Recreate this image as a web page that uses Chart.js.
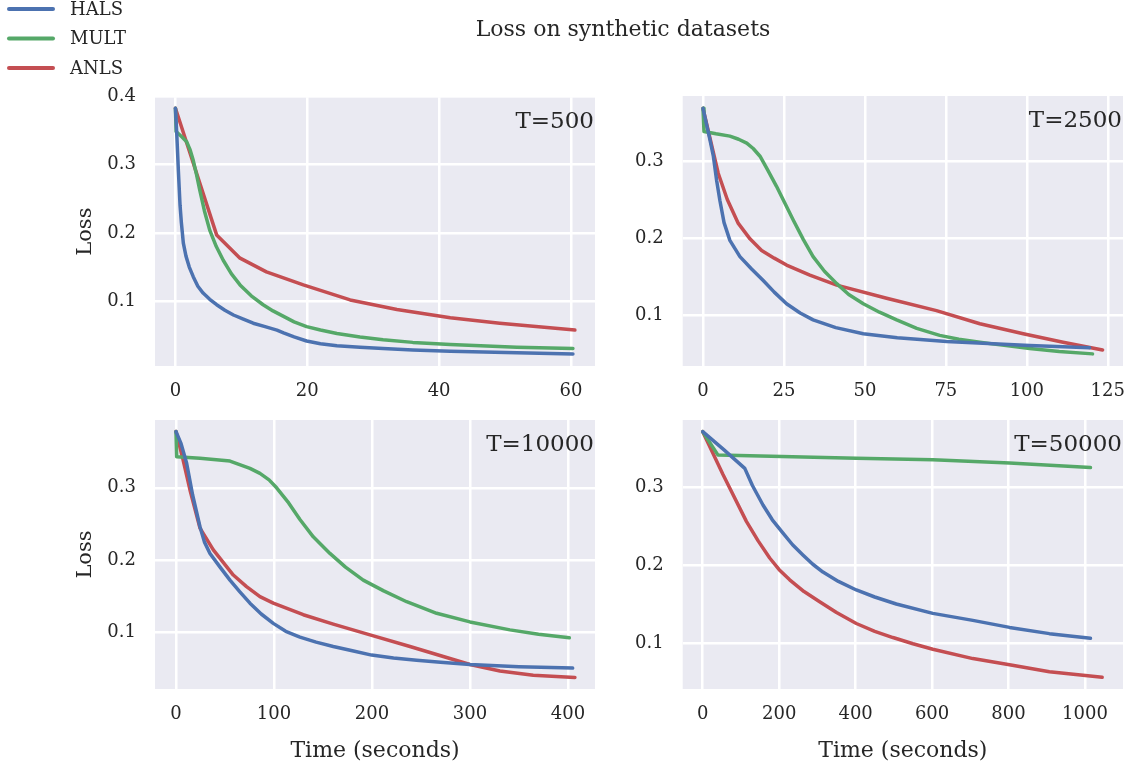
<!DOCTYPE html>
<html>
<head>
<meta charset="utf-8">
<script src="https://cdn.jsdelivr.net/npm/chart.js@4.4.1/dist/chart.umd.min.js"></script>
<style>
  body { margin: 0; background: #fff; }
  #wrap { position: relative; width: 1130px; height: 768px; }
  #wrap canvas { position: absolute; left: 0; top: 0; }
</style>
</head>
<body>
<div id="wrap">
  <canvas id="c500" width="1130" height="768"></canvas>
  <canvas id="c2500" width="1130" height="768"></canvas>
  <canvas id="c10000" width="1130" height="768"></canvas>
  <canvas id="c50000" width="1130" height="768"></canvas>
</div>
<script>
// series names + colours (seaborn "deep")
const seriesNames = ['HALS', 'MULT', 'ANLS'];
const seriesColors = ['#4C72B0', '#55A868', '#C44E52'];

// T=500  -> [time, loss]
const hals500 = [[0,0.382],[0.2,0.345],[0.45,0.29],[0.7,0.24],[0.9,0.215],[1.2,0.185],[1.6,0.166],[2.1,0.15],[2.7,0.136],[3.4,0.122],[4.2,0.112],[5.2,0.103],[6.25,0.095],[7.5,0.087],[8.8,0.08],[10.3,0.074],[11.8,0.068],[13.6,0.063],[15.4,0.058],[16.4,0.054],[18,0.048],[19.9,0.042],[22,0.038],[24.5,0.035],[28,0.033],[31.5,0.031],[36,0.029],[41.7,0.027],[51.8,0.025],[60.3,0.023]];
const mult500 = [[0,0.382],[0.1,0.348],[1.0,0.34],[1.7,0.333],[2.2,0.322],[2.7,0.306],[3.2,0.285],[3.7,0.262],[4.4,0.232],[5.2,0.204],[6.2,0.18],[7.25,0.16],[8.5,0.14],[9.8,0.124],[11.5,0.108],[13.3,0.095],[14.8,0.086],[16.4,0.078],[18,0.07],[19.9,0.063],[22,0.058],[24.5,0.053],[28,0.048],[31.5,0.044],[36,0.04],[41.7,0.037],[51.8,0.033],[60.3,0.031]];
const anls500 = [[0,0.382],[6.25,0.197],[9.8,0.163],[13.8,0.143],[19.4,0.124],[26.5,0.102],[33.6,0.088],[41.7,0.076],[49.2,0.068],[60.6,0.058]];

// T=2500
const hals2500 = [[0,0.368],[2,0.33],[3.2,0.306],[4.2,0.275],[5.2,0.249],[6.5,0.22],[8.3,0.197],[11.4,0.176],[15,0.16],[18.6,0.145],[22,0.13],[25.8,0.115],[30,0.103],[34,0.094],[41,0.084],[49.5,0.076],[60,0.071],[75.2,0.066],[100.9,0.061],[119.4,0.058]];
const mult2500 = [[0,0.368],[0.3,0.338],[4,0.335],[8.3,0.332],[11,0.328],[13.5,0.323],[15.5,0.316],[17.6,0.306],[20,0.288],[22.7,0.267],[25.3,0.245],[27.9,0.223],[31,0.198],[34,0.176],[37.5,0.157],[41.3,0.141],[45,0.127],[49.5,0.115],[54.5,0.104],[59.8,0.094],[66,0.083],[73.1,0.074],[79,0.069],[85.5,0.065],[93,0.061],[100.9,0.057],[110,0.053],[120.3,0.05]];
const anls2500 = [[0,0.368],[4.7,0.284],[7.5,0.25],[10.9,0.219],[14.5,0.199],[18.1,0.184],[22,0.174],[25.8,0.165],[33,0.152],[41.3,0.139],[56.7,0.122],[72.1,0.106],[85.5,0.089],[98.9,0.076],[111.2,0.065],[123.4,0.055]];

// T=10000
const hals10000 = [[0,0.378],[5,0.362],[10.9,0.334],[17,0.29],[24.5,0.246],[29,0.225],[34.7,0.209],[45,0.19],[55.1,0.172],[65,0.156],[75.5,0.14],[87,0.125],[99.3,0.112],[112,0.101],[126.5,0.093],[143,0.086],[160.5,0.08],[180,0.074],[199.7,0.068],[222,0.064],[245.6,0.061],[270,0.058],[300,0.055],[350,0.052],[404.8,0.05]];
const mult10000 = [[0,0.378],[0.7,0.343],[24.5,0.341],[55.1,0.337],[75.5,0.327],[85.7,0.32],[95,0.311],[102.7,0.3],[115,0.279],[126.5,0.256],[140.1,0.232],[157.1,0.209],[173,0.19],[191.1,0.172],[212,0.157],[235.4,0.142],[266,0.126],[300,0.114],[340.8,0.103],[370,0.097],[401.4,0.092]];
const anls10000 = [[0,0.378],[7,0.34],[14.3,0.297],[24.5,0.244],[38.1,0.214],[58.5,0.179],[72,0.163],[85.7,0.149],[99.3,0.14],[129.9,0.124],[160.5,0.111],[198,0.096],[238.8,0.08],[272.8,0.066],[300,0.055],[330.6,0.046],[364.6,0.04],[407.1,0.037]];

// T=50000
const hals50000 = [[0,0.371],[55,0.348],[110,0.324],[130,0.302],[157.6,0.277],[182,0.258],[210,0.241],[235,0.226],[262,0.213],[288,0.201],[314.5,0.191],[355,0.179],[401.8,0.168],[450,0.159],[506.4,0.15],[602,0.138],[706.7,0.129],[802.6,0.12],[907,0.112],[1014.4,0.106]];
const mult50000 = [[0,0.371],[40,0.341],[401.8,0.337],[602,0.335],[802.6,0.331],[1014.4,0.325]];
const anls50000 = [[0,0.371],[53,0.316],[114.2,0.256],[145,0.231],[175.2,0.209],[200,0.194],[227.5,0.181],[265,0.166],[305.9,0.153],[350,0.139],[401.8,0.125],[450,0.115],[497.6,0.107],[550,0.099],[602,0.092],[706.7,0.08],[802.6,0.072],[907,0.063],[1045,0.056]];

// tick labels
const xTicks500 = [0, 20, 40, 60];
const xTicks2500 = [0, 25, 50, 75, 100, 125];
const xTicks10000 = [0, 100, 200, 300, 400];
const xTicks50000 = [0, 200, 400, 600, 800, 1000];
const yTicksTop = [0.1, 0.2, 0.3, 0.4];
const yTicks = [0.1, 0.2, 0.3];

const txt = '#262626';
Chart.defaults.font.family = "'DejaVu Serif', serif";
Chart.defaults.color = txt;

// grey plot background
const bgPlugin = {
  id: 'bg',
  beforeDraw(chart) {
    const a = chart.chartArea, ctx = chart.ctx;
    ctx.save();
    ctx.fillStyle = '#EAEAF2';
    ctx.fillRect(a.left, a.top, a.right - a.left, a.bottom - a.top);
    ctx.restore();
  }
};

// "T=..." inside the plot, top right
const panelLabel = {
  id: 'panelLabel',
  afterDraw(chart, args, opts) {
    const a = chart.chartArea, ctx = chart.ctx;
    ctx.save();
    ctx.font = "23px 'DejaVu Serif'";
    ctx.fillStyle = txt;
    ctx.textAlign = 'right';
    ctx.textBaseline = 'alphabetic';
    ctx.fillText(opts.text, a.right - 1, a.top + 31);
    ctx.restore();
  }
};

// figure title + legend (only on the first chart)
const figDecor = {
  id: 'figDecor',
  afterDraw(chart) {
    const ctx = chart.ctx;
    ctx.save();
    ctx.fillStyle = txt;
    ctx.font = "22px 'DejaVu Serif'";
    ctx.textAlign = 'center';
    ctx.textBaseline = 'middle';
    ctx.fillText('Loss on synthetic datasets', 623, 30);
    ctx.font = "18px 'DejaVu Serif'";
    ctx.textAlign = 'left';
    seriesNames.forEach((n, i) => {
      const y = 9 + i * 29.5;
      ctx.strokeStyle = seriesColors[i];
      ctx.lineWidth = 4;
      ctx.lineCap = 'round';
      ctx.beginPath();
      ctx.moveTo(9, y);
      ctx.lineTo(53, y);
      ctx.stroke();
      ctx.fillText(n, 70, y + 1);
    });
    ctx.restore();
  }
};

function makePanel(id, p) {
  const W = p.l - (p.leftCol ? 0 : 610);
  const H = p.bottomRow ? 75 : 40;
  const plugins = [bgPlugin, panelLabel];
  if (p.decor) plugins.push(figDecor);
  return new Chart(document.getElementById(id), {
    type: 'line',
    data: {
      datasets: p.series.map((s, i) => ({
        label: seriesNames[i],
        data: s.map(d => ({ x: d[0], y: d[1] })),
        borderColor: seriesColors[i],
        borderWidth: 3.5,
        pointRadius: 0,
        tension: 0,
        borderCapStyle: 'round',
        borderJoinStyle: 'round'
      }))
    },
    options: {
      responsive: false,
      animation: false,
      devicePixelRatio: 1,
      layout: {
        padding: { left: p.l - W, top: p.t, right: 1130 - p.r, bottom: 768 - p.b - H }
      },
      plugins: {
        legend: { display: false },
        tooltip: { enabled: false },
        panelLabel: { text: p.label }
      },
      scales: {
        x: {
          type: 'linear',
          min: p.xMin, max: p.xMax,
          afterFit(s) { s.height = H; s.paddingLeft = 0; s.paddingRight = 0; },
          afterBuildTicks(s) { s.ticks = p.xTicks.map(v => ({ value: v })); },
          ticks: { padding: 15, autoSkip: false, maxRotation: 0, font: { size: 18 }, callback: v => String(v) },
          grid: { color: '#ffffff', lineWidth: 2.5, drawTicks: false },
          border: { display: false },
          title: { display: p.bottomRow, text: 'Time (seconds)', font: { size: 22 }, padding: { top: 0, bottom: 0 } }
        },
        y: {
          type: 'linear',
          min: p.yMin, max: p.yMax,
          afterFit(s) { s.width = W; s.paddingTop = 0; s.paddingBottom = 0; },
          afterBuildTicks(s) { s.ticks = p.yTicks.map(v => ({ value: v })); },
          ticks: { padding: 19, autoSkip: false, font: { size: 18 }, callback: v => v.toFixed(1) },
          grid: { color: '#ffffff', lineWidth: 2.5, drawTicks: false },
          border: { display: false },
          title: { display: p.leftCol, text: 'Loss', font: { size: 21 }, padding: { top: 73, bottom: 0 } }
        }
      }
    },
    plugins: plugins
  });
}

makePanel('c500', {
  l: 155, t: 97.3, r: 595, b: 366, leftCol: true, bottomRow: false, decor: true,
  xMin: -3.1, xMax: 63.65, yMin: 0.0055, yMax: 0.398,
  xTicks: xTicks500, yTicks: yTicksTop, label: 'T=500',
  series: [hals500, mult500, anls500]
});
makePanel('c2500', {
  l: 682.7, t: 96, r: 1123, b: 366, leftCol: false, bottomRow: false,
  xMin: -6.27, xMax: 129.7, yMin: 0.0343, yMax: 0.384,
  xTicks: xTicks2500, yTicks: yTicks, label: 'T=2500',
  series: [hals2500, mult2500, anls2500]
});
makePanel('c10000', {
  l: 155, t: 420, r: 595, b: 689, leftCol: true, bottomRow: true,
  xMin: -21.4, xMax: 427.6, yMin: 0.021, yMax: 0.394,
  xTicks: xTicks10000, yTicks: yTicks, label: 'T=10000',
  series: [hals10000, mult10000, anls10000]
});
makePanel('c50000', {
  l: 682.7, t: 420, r: 1123, b: 689, leftCol: false, bottomRow: true,
  xMin: -52.4, xMax: 1099.5, yMin: 0.041, yMax: 0.386,
  xTicks: xTicks50000, yTicks: yTicks, label: 'T=50000',
  series: [hals50000, mult50000, anls50000]
});
</script>
</body>
</html>
